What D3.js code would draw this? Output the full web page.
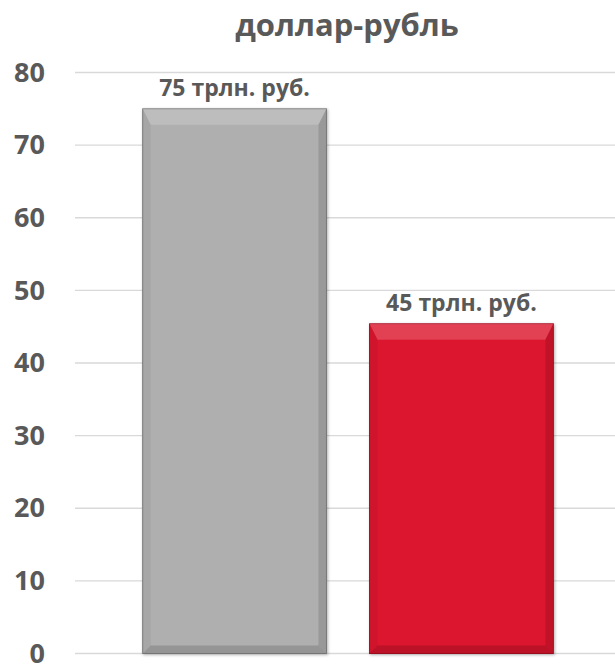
<!DOCTYPE html>
<html>
<head>
<meta charset="utf-8">
<script src="https://cdn.jsdelivr.net/npm/d3@7"></script>
<style>
  body { margin: 0; background: #fff; }
  svg { display: block; font-family: "Open Sans", sans-serif; }
</style>
</head>
<body>
<svg id="chart" width="615" height="664"></svg>
<script>
const categories = ["A", "B"];
const values = [75, 45.4];
const labels = ["75 трлн. руб.", "45 трлн. руб."];
const colors = ["#afafaf", "#dc152f"];
const edgeColors = ["#7f7f7f", "#a80f22"];
const yTicks = [0, 10, 20, 30, 40, 50, 60, 70, 80];
const TITLE = "доллар-рубль";

const svg = d3.select("#chart");
const margin = { left: 75, right: 0, top: 72.5, bottom: 10.5 };
const W = 615, H = 664;

const x = d3.scaleBand().domain(categories)
  .range([margin.left + 3, W - margin.right + 3])
  .paddingInner(0.19).paddingOuter(0.285);
const y = d3.scaleLinear().domain([0, 80]).range([H - margin.bottom, margin.top]);

const defs = svg.append("defs");
const f = defs.append("filter").attr("id", "sh").attr("x", "-10%").attr("y", "-10%").attr("width", "120%").attr("height", "120%");
f.append("feDropShadow").attr("dx", 1).attr("dy", 1).attr("stdDeviation", 1.5).attr("flood-color", "#000").attr("flood-opacity", 0.3);

// gridlines
svg.append("g")
  .selectAll("line")
  .data(yTicks)
  .join("line")
  .attr("x1", margin.left).attr("x2", W)
  .attr("y1", d => y(d)).attr("y2", d => y(d))
  .attr("stroke", "#d9d9d9").attr("stroke-width", 1.3);

// y axis labels
svg.append("g")
  .selectAll("text")
  .data(yTicks)
  .join("text")
  .attr("x", 45).attr("y", d => y(d))
  .attr("dy", "0.34em")
  .attr("text-anchor", "end")
  .attr("fill", "#595959")
  .style("font-size", "27px").style("font-weight", "bold")
  .text(d => d);

// title
svg.append("text")
  .attr("x", 347).attr("y", 36)
  .attr("text-anchor", "middle")
  .attr("fill", "#595959")
  .style("font-size", "31px").style("font-weight", "bold")
  .text(TITLE);

// bars with bevel
const bev = 8;
const bars = svg.append("g")
  .selectAll("g")
  .data(categories)
  .join("g");

bars.append("rect")
  .attr("x", d => x(d)).attr("y", (d, i) => y(values[i]))
  .attr("width", x.bandwidth())
  .attr("height", (d, i) => y(0) - y(values[i]))
  .attr("fill", (d, i) => colors[i])
  .attr("stroke", (d, i) => edgeColors[i]).attr("stroke-width", 1)
  .attr("filter", "url(#sh)");

// top bevel (light)
bars.append("polygon")
  .attr("points", (d, i) => {
    const x0 = x(d), x1 = x(d) + x.bandwidth(), y0 = y(values[i]);
    return [[x0, y0], [x1, y0], [x1 - bev, y0 + bev * 2], [x0 + bev, y0 + bev * 2]].join(" ");
  })
  .attr("fill", "#fff").attr("fill-opacity", 0.18);

// left bevel
bars.append("polygon")
  .attr("points", (d, i) => {
    const x0 = x(d), y0 = y(values[i]), y1 = y(0);
    return [[x0, y0], [x0 + bev, y0 + bev * 2], [x0 + bev, y1 - bev], [x0, y1]].join(" ");
  })
  .attr("fill", "#000").attr("fill-opacity", 0.05);

// right bevel
bars.append("polygon")
  .attr("points", (d, i) => {
    const x1 = x(d) + x.bandwidth(), y0 = y(values[i]), y1 = y(0);
    return [[x1, y0], [x1 - bev, y0 + bev * 2], [x1 - bev, y1 - bev], [x1, y1]].join(" ");
  })
  .attr("fill", "#000").attr("fill-opacity", 0.12);

// bottom bevel
bars.append("polygon")
  .attr("points", (d, i) => {
    const x0 = x(d), x1 = x(d) + x.bandwidth(), y1 = y(0);
    return [[x0, y1], [x0 + bev, y1 - bev], [x1 - bev, y1 - bev], [x1, y1]].join(" ");
  })
  .attr("fill", "#000").attr("fill-opacity", 0.15);

// value labels
bars.append("text")
  .attr("x", d => x(d) + x.bandwidth() / 2)
  .attr("y", (d, i) => y(values[i]) - 13)
  .attr("text-anchor", "middle")
  .attr("fill", "#595959")
  .style("font-size", "23px").style("font-weight", "bold")
  .text((d, i) => labels[i]);
</script>
</body>
</html>
